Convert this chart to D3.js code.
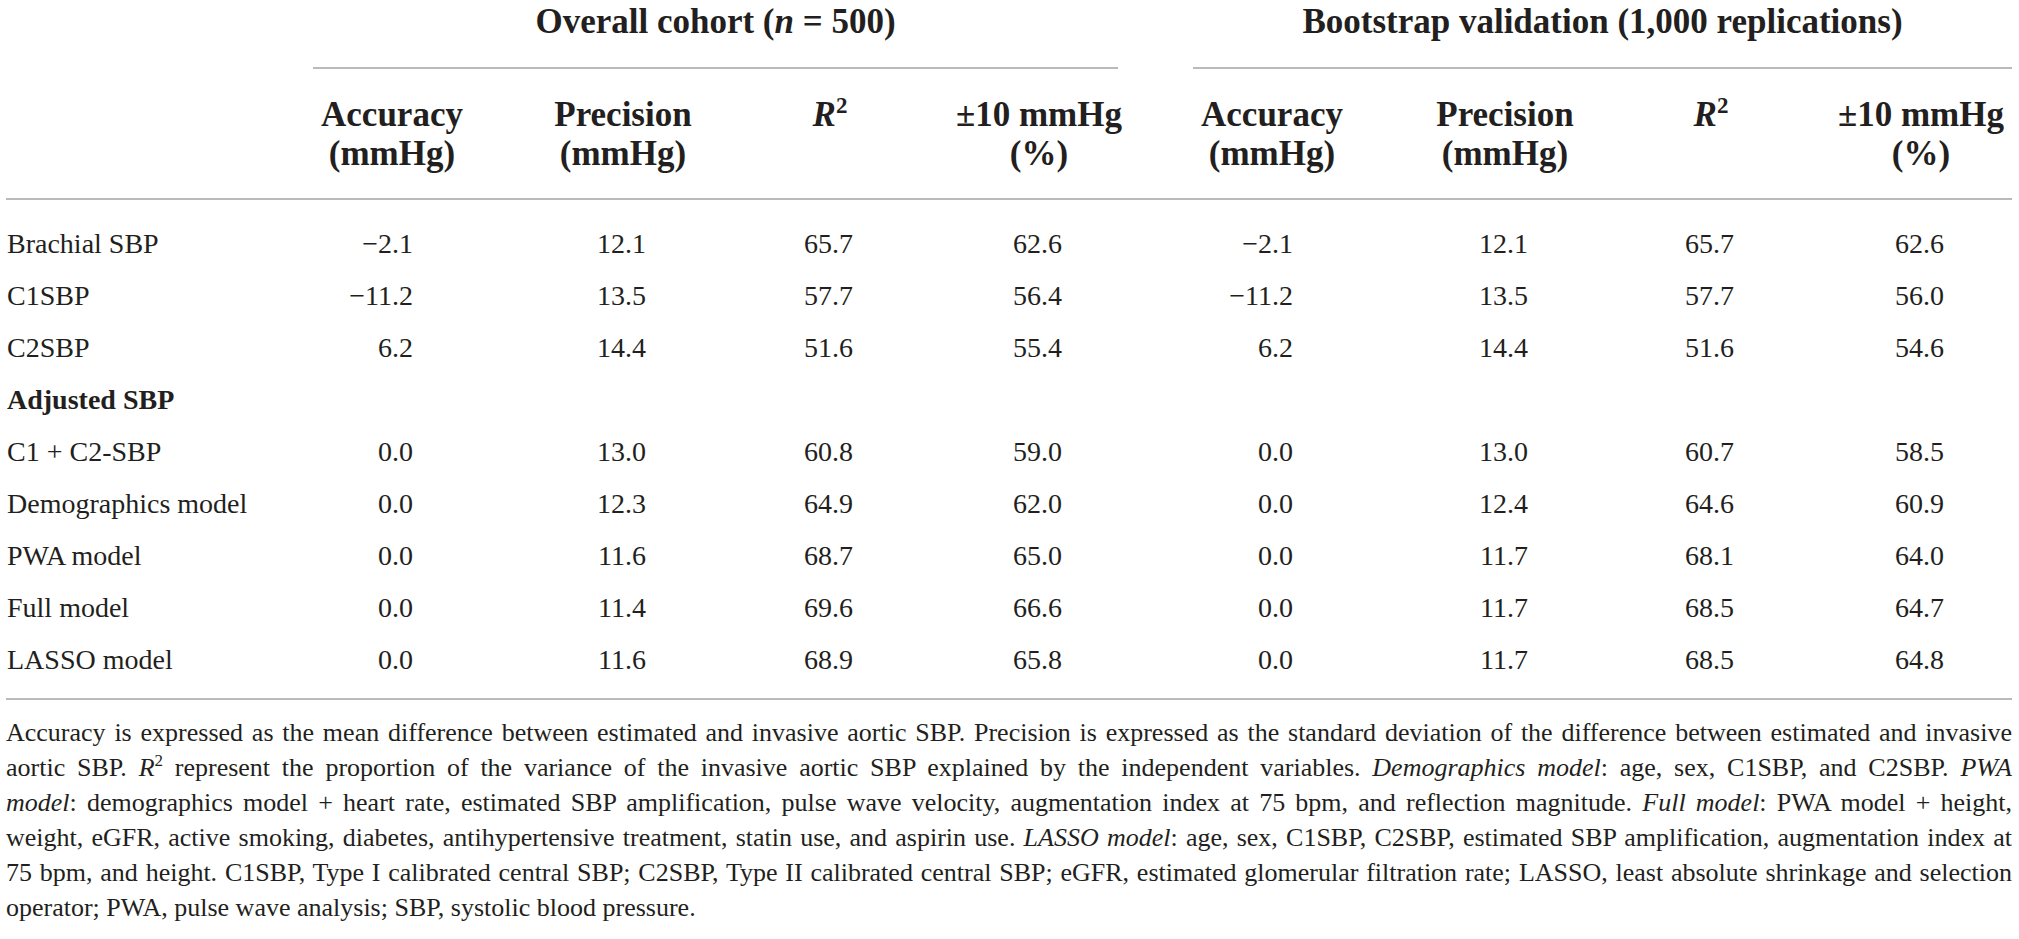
<!DOCTYPE html>
<html>
<head>
<meta charset="utf-8">
<script src="https://cdn.jsdelivr.net/npm/d3@7"></script>
<style>
  html, body { margin: 0; padding: 0; background: #fff; }
  svg { display: block; }
  text { font-family: "Liberation Serif", "DejaVu Serif", serif; fill: #231f20; }
</style>
</head>
<body>
<svg id="chart" width="2019" height="939"></svg>
<script>
// ---------------- data ----------------
const groupTitles = [
  [["Overall cohort (", "b"], ["n", "bi"], [" = 500)", "b"]],
  [["Bootstrap validation (1,000 replications)", "b"]]
];
const columnHeads = [
  [["Accuracy"], ["(mmHg)"]],
  [["Precision"], ["(mmHg)"]],
  [["R2"], []],
  [["\u00B110 mmHg"], ["(%)"]]
];
const rowLabels = ["Brachial SBP", "C1SBP", "C2SBP", "Adjusted SBP", "C1 + C2-SBP",
  "Demographics model", "PWA model", "Full model", "LASSO model"];
const boldRows = ["Adjusted SBP"];

const overallAccuracy  = [-2.1, -11.2, 6.2, null, 0.0, 0.0, 0.0, 0.0, 0.0];
const overallPrecision = [12.1, 13.5, 14.4, null, 13.0, 12.3, 11.6, 11.4, 11.6];
const overallR2        = [65.7, 57.7, 51.6, null, 60.8, 64.9, 68.7, 69.6, 68.9];
const overallWithin10  = [62.6, 56.4, 55.4, null, 59.0, 62.0, 65.0, 66.6, 65.8];

const bootAccuracy  = [-2.1, -11.2, 6.2, null, 0.0, 0.0, 0.0, 0.0, 0.0];
const bootPrecision = [12.1, 13.5, 14.4, null, 13.0, 12.4, 11.7, 11.7, 11.7];
const bootR2        = [65.7, 57.7, 51.6, null, 60.7, 64.6, 68.1, 68.5, 68.5];
const bootWithin10  = [62.6, 56.0, 54.6, null, 58.5, 60.9, 64.0, 64.7, 64.8];

const footnoteLines = [
  [["Accuracy is expressed as the mean difference between estimated and invasive aortic SBP. Precision is expressed as the standard deviation of the difference between estimated and invasive", "r"]],
  [["aortic SBP. ", "r"], ["R", "i"], ["2", "sup"], [" represent the proportion of the variance of the invasive aortic SBP explained by the independent variables. ", "r"], ["Demographics model", "i"], [": age, sex, C1SBP, and C2SBP. ", "r"], ["PWA", "i"]],
  [["model", "i"], [": demographics model + heart rate, estimated SBP amplification, pulse wave velocity, augmentation index at 75 bpm, and reflection magnitude. ", "r"], ["Full model", "i"], [": PWA model + height,", "r"]],
  [["weight, eGFR, active smoking, diabetes, antihypertensive treatment, statin use, and aspirin use. ", "r"], ["LASSO model", "i"], [": age, sex, C1SBP, C2SBP, estimated SBP amplification, augmentation index at", "r"]],
  [["75 bpm, and height. C1SBP, Type I calibrated central SBP; C2SBP, Type II calibrated central SBP; eGFR, estimated glomerular filtration rate; LASSO, least absolute shrinkage and selection", "r"]],
  [["operator; PWA, pulse wave analysis; SBP, systolic blood pressure.", "r"]]
];

// ---------------- layout ----------------
const svg = d3.select("#chart");
const leftX = 6, rightX = 2012;
const ruleColor = "#a3a3a3";

const groups = [
  { title: groupTitles[0], cols: [overallAccuracy, overallPrecision, overallR2, overallWithin10] },
  { title: groupTitles[1], cols: [bootAccuracy, bootPrecision, bootR2, bootWithin10] }
];

// column centre positions through an ordinal scale
const colKeys = d3.range(8);
const colX = d3.scaleOrdinal().domain(colKeys).range([392, 623, 830, 1039, 1272, 1505, 1711, 1921]);
const groupSpan = d3.scaleOrdinal().domain([0, 1]).range([[313, 1118], [1193, 2012]]);
const rowY = d3.scaleLinear().domain([0, rowLabels.length - 1]).range([253, 669]);
const fmt = d3.format(".1f");

// group titles + rules
groups.forEach((g, gi) => {
  const [x0, x1] = groupSpan(gi);
  const t = svg.append("text")
    .attr("x", (x0 + x1) / 2).attr("y", 33)
    .attr("text-anchor", "middle")
    .style("font-size", "35px").style("font-weight", "bold");
  g.title.forEach(([s, st]) => {
    t.append("tspan").text(s).style("font-style", st === "bi" ? "italic" : "normal");
  });
  svg.append("line").attr("x1", x0).attr("x2", x1).attr("y1", 68).attr("y2", 68)
    .attr("stroke", ruleColor).attr("stroke-width", 1.6);
});

// column headers
colKeys.forEach(k => {
  const head = columnHeads[k % 4];
  const cx = colX(k);
  [126, 165].forEach((y, li) => {
    const line = head[li];
    if (!line || !line.length) return;
    const s = line[0];
    const t = svg.append("text").attr("x", cx).attr("y", y)
      .attr("text-anchor", "middle")
      .style("font-size", "35px").style("font-weight", "bold");
    if (s === "R2") {
      t.append("tspan").text("R").style("font-style", "italic");
      t.append("tspan").text("2").attr("dy", -13).style("font-size", "23px");
    } else {
      t.text(s);
    }
  });
});

// header rules
svg.append("line").attr("x1", leftX).attr("x2", rightX).attr("y1", 199).attr("y2", 199)
  .attr("stroke", ruleColor).attr("stroke-width", 1.6);
svg.append("line").attr("x1", leftX).attr("x2", rightX).attr("y1", 699).attr("y2", 699)
  .attr("stroke", ruleColor).attr("stroke-width", 1.6);

// row labels
svg.selectAll("text.rowlabel").data(rowLabels).join("text")
  .attr("class", "rowlabel")
  .attr("x", 7).attr("y", (d, i) => rowY(i))
  .style("font-size", "28px")
  .style("font-weight", d => boldRows.includes(d) ? "bold" : "normal")
  .text(d => d);

// cell values (right aligned, decimal aligned)
groups.forEach((g, gi) => {
  g.cols.forEach((vals, ci) => {
    const k = gi * 4 + ci;
    const rx = colX(k) + (ci === 0 ? 21 : 23);
    svg.selectAll(null).data(vals.map((v, i) => ({ v, i })).filter(d => d.v !== null)).join("text")
      .attr("x", rx).attr("y", d => rowY(d.i))
      .attr("text-anchor", "end")
      .style("font-size", "28px")
      .text(d => fmt(d.v));
  });
});

// footnote (justified)
const footY = d3.scaleLinear().domain([0, footnoteLines.length - 1]).range([741, 916]);
footnoteLines.forEach((segs, li) => {
  const t = svg.append("text").attr("x", leftX).attr("y", footY(li))
    .style("font-size", "26px");
  let supUp = false;
  segs.forEach(([s, st]) => {
    const ts = t.append("tspan").text(s);
    if (st === "i") ts.style("font-style", "italic");
    if (st === "sup") { ts.style("font-size", "17px").attr("dy", -10); supUp = true; }
    else if (supUp) { ts.attr("dy", 10); supUp = false; }
  });
  if (li < footnoteLines.length - 1) {
    const full = segs.map(d => d[0]).join("");
    const spaces = (full.match(/ /g) || []).length;
    const nat = t.node().getComputedTextLength();
    const ws = (rightX - leftX - nat) / spaces;
    t.style("word-spacing", ws + "px");
  }
});
</script>
</body>
</html>
